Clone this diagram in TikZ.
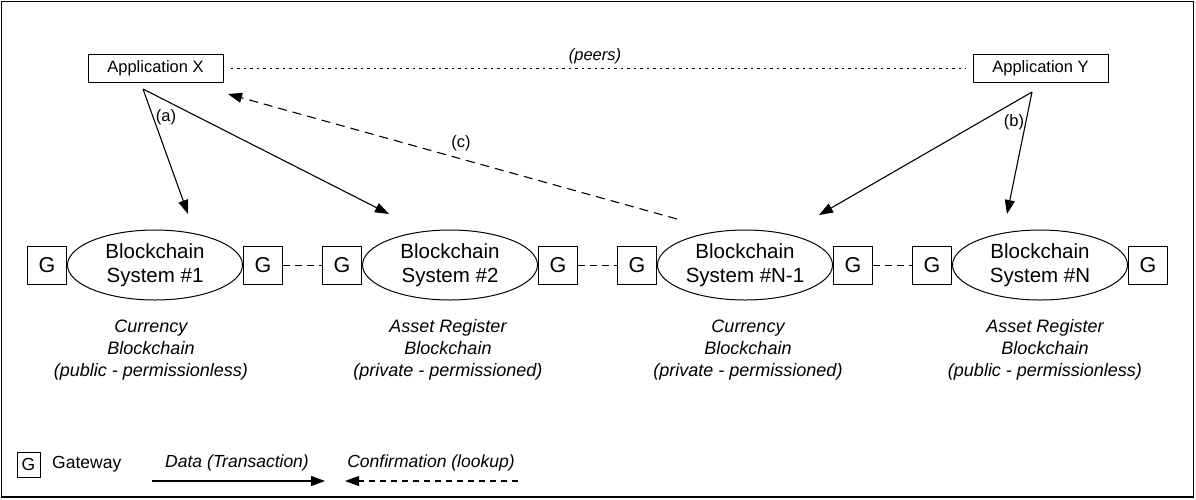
\documentclass[tikz,border=0pt]{standalone}
\usepackage{fontspec}
\setmainfont{Liberation Sans}
\usetikzlibrary{shapes.geometric,arrows.meta}
\begin{document}
\begin{tikzpicture}[x=1pt,y=-1pt,
  app/.style={draw, line width=1pt, minimum width=135pt, minimum height=28pt, inner sep=0pt, font=\fontsize{16.5}{19}\selectfont},
  gw/.style={draw, line width=1pt, minimum width=39pt, minimum height=38pt, inner sep=0pt, font=\fontsize{21.5}{24}\selectfont},
  gwsmall/.style={draw, line width=1pt, minimum width=23pt, minimum height=25pt, inner sep=0pt, font=\fontsize{17.5}{20}\selectfont},
  bc/.style={ellipse, draw, line width=1pt, minimum width=175pt, minimum height=70pt, inner sep=0pt, align=center, font=\fontsize{20.5}{24}\selectfont},
  lbl/.style={align=center, font=\fontsize{18}{22}\selectfont\itshape},
  tag/.style={font=\fontsize{16.5}{19}\selectfont},
  legtxt/.style={font=\fontsize{17.5}{20}\selectfont},
  data/.style={-{Triangle[length=14pt,width=10pt]}, line width=1.1pt},
  conf/.style={data, dash pattern=on 9pt off 6pt},
  link/.style={line width=1pt, dash pattern=on 7pt off 5pt},
  peer/.style={line width=1pt, dash pattern=on 2.5pt off 4pt}
]
\useasboundingbox (0,0) rectangle (1196,499);
\draw[line width=1.5pt] (1.5,1.5) rectangle (1193.5,497);

% applications
\node[app] (appX) at (155.5,68) {Application X};
\node[app] (appY) at (1040.5,68) {Application Y};
\draw[peer] ([xshift=7pt]appX.east) -- ([xshift=-7pt]appY.west);
\node[tag, font=\fontsize{16.5}{19}\selectfont\itshape] (peers) at (595,56) {(peers)};

% blockchains
\node[bc] (e1) at (155,265) {Blockchain\\System \#1};
\node[bc] (e2) at (450,265) {Blockchain\\System \#2};
\node[bc] (e3) at (745,265) {Blockchain\\System \#N-1};
\node[bc] (e4) at (1040,265) {Blockchain\\System \#N};

\foreach \i in {1,2,3,4}{
  \node[gw, anchor=east] (g\i l) at (e\i.west) {G};
  \node[gw, anchor=west] (g\i r) at (e\i.east) {G};
}
\draw[link] (g1r.east) -- (g2l.west);
\draw[link] (g2r.east) -- (g3l.west);
\draw[link] (g3r.east) -- (g4l.west);

% descriptions
\node[lbl] (d1) at (151,350) {Currency\\Blockchain\\(public - permissionless)};
\node[lbl] (d2) at (448,350) {Asset Register\\Blockchain\\(private - permissioned)};
\node[lbl] (d3) at (748,350) {Currency\\Blockchain\\(private - permissioned)};
\node[lbl] (d4) at (1045,350) {Asset Register\\Blockchain\\(public - permissionless)};

% flows
\coordinate (ax) at (143,89);
\coordinate (t1) at (188,214);
\coordinate (t2) at (389,214);
\draw[data] (ax) -- (t1);
\draw[data] (ax) -- (t2);
\node[tag] (la) at (166,117) {(a)};

\coordinate (ay) at (1032,92);
\coordinate (t3) at (819,215);
\coordinate (t4) at (1007,214);
\draw[data] (ay) -- (t3);
\draw[data] (ay) -- (t4);
\node[tag] (lb) at (1014,122) {(b)};

\coordinate (cs) at (677,219);
\coordinate (ct) at (228,94);
\draw[conf] (cs) -- (ct);
\node[tag] (lc) at (461,143) {(c)};

% legend
\node[gwsmall] (lg) at (28.5,464.5) {G};
\node[legtxt, anchor=west, inner sep=0pt] (lgt) at (52,464) {Gateway};
\node[legtxt, font=\fontsize{17.5}{20}\selectfont\itshape] (ldt) at (237,463) {Data (Transaction)};
\node[legtxt, font=\fontsize{17.5}{20}\selectfont\itshape] (lct) at (431,463) {Confirmation (lookup)};
\coordinate (ds) at (152,481);
\coordinate (de) at (325,481);
\draw[data] (ds) -- (de);
\coordinate (cs2) at (518,481);
\coordinate (ce2) at (345,481);
\draw[conf, dash pattern=on 6pt off 5pt] (cs2) -- (ce2);
\end{tikzpicture}
\end{document}
